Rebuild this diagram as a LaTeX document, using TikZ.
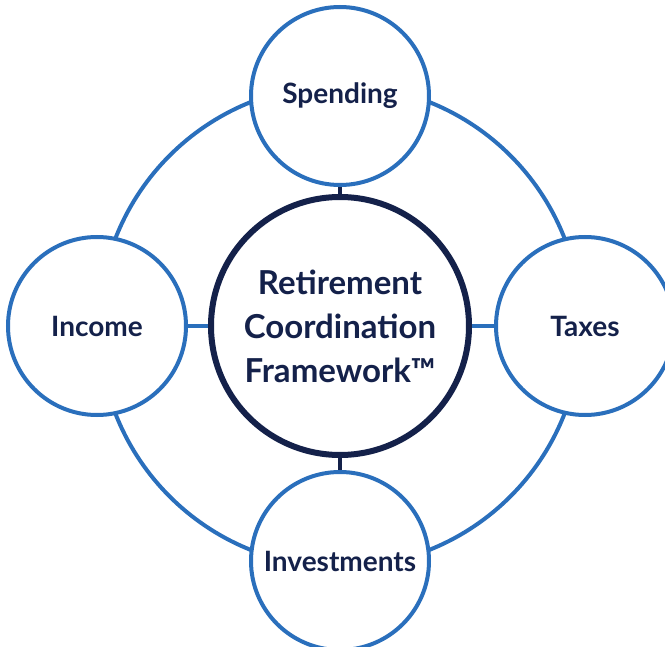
\documentclass[tikz,border=0pt]{standalone}
\usepackage{fontspec}
\setmainfont{Lato}
\definecolor{ringblue}{HTML}{2A6FBC}
\definecolor{navy}{HTML}{14214A}
\begin{document}
\begin{tikzpicture}
  [x=1pt,y=-1pt,every node/.style={circle,draw=ringblue,line width=4pt,fill=white,
   minimum size=178pt,inner sep=0pt,text=navy,font=\bfseries\fontsize{28}{32}\selectfont}]
  \tikzstyle{hub} = [draw=navy,line width=6pt,minimum size=258pt,
    font=\bfseries\fontsize{33}{44}\selectfont,align=center]
  \useasboundingbox (0,0) rectangle (665,647);
  \coordinate (mid) at (340,326);
  \draw[ringblue,line width=4pt] (mid) circle (241pt);

  \node[hub] (core) at (mid) {Retirement\\Coordination\\Framework™};
  \node (spend) at (340,96)  {Spending};
  \node (income) at (97,326) {Income};
  \node (taxes) at (585,326) {Taxes};
  \node (invest) at (340,561) {Investments};

\foreach \dest in {spend,invest}
   \draw[navy,line width=3.5pt] (core) -- (\dest);
\foreach \dest in {income,taxes}
   \draw[ringblue,line width=4pt] (core) -- (\dest);
\end{tikzpicture}
\end{document}
